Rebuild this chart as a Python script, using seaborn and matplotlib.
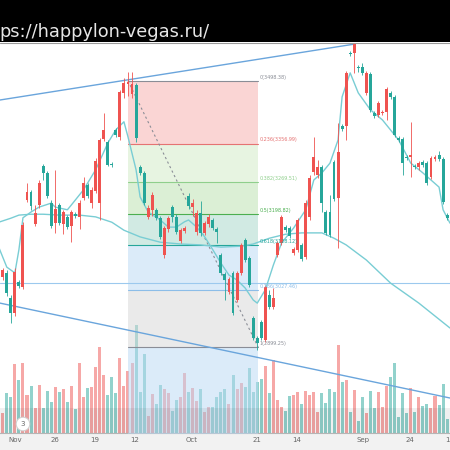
import numpy as np
import pandas as pd
import seaborn as sns
import matplotlib.pyplot as plt
from matplotlib.patches import Rectangle

# Candles (left to right as displayed)
opens = [3180.5, 3072.5, 3020.75, 2975.75, 3068, 3036.5, 3173.75, 3248, 3216.5, 3200.75,
         3268, 3290.75, 3239, 3171.5, 3209.75, 3178, 3203, 3169, 3203, 3194,
         3223, 3268, 3239, 3252.5, 3317.75, 3365, 3387.5, 3308.75, 3308.75, 3376,
         3473, 3493, 3495.5, 3491, 3369.5, 3290.75, 3223, 3212, 3241, 3189.5,
         3146.75, 3167, 3189.5, 3191.75, 3158, 3162.5, 3167, 3216.5, 3223, 3200.75,
         3155.75, 3178, 3191.75, 3167, 3158, 3065.75, 3050, 3052.25, 2975.75, 3065.75,
         3128.75, 3095, 3038.75, 2919.5, 2908, 2919.5, 3034, 2989, 3009.5, 3133,
         3191.75, 3162.5, 3149, 3119.75, 3185, 3097, 3223, 3279.5, 3326.75, 3304,
         3223, 3155.75, 3151, 3232, 3338, 3390, 3516, 3558, 3581, 3527,
         3516, 3516, 3432.5, 3419, 3448, 3428, 3480, 3462, 3376, 3365,
         3313, 3324.5, 3331, 3304, 3313, 3308.75, 3268, 3324.5, 3326.75, 3322,
         3225.5, 3189.5]
closes = [3236.75, 3056.75, 3065.75, 3009.5, 2975.75, 3045.5, 3034, 3230, 3248, 3176,
          3218.75, 3306.5, 3290.75, 3223, 3178, 3218.75, 3176, 3191.75, 3171.5, 3198.5,
          3191.75, 3234.5, 3263.75, 3223, 3250, 3223, 3367, 3360.5, 3311, 3387.5,
          3372, 3471, 3491, 3468.5, 3489, 3304, 3290.75, 3191.75, 3207.5, 3207.5,
          3189.5, 3106, 3164.75, 3214, 3191.75, 3137.75, 3160, 3239, 3214, 3158,
          3200.75, 3155.75, 3176, 3185, 3164.75, 3106, 3063.5, 3023, 3065.75, 3005,
          3065.75, 3140, 3099.5, 2964.5, 2919.5, 2955.5, 2915, 3016, 2989, 3106,
          3133, 3169, 3167, 3110.75, 3117.5, 3128.75, 3101.75, 3191.75, 3293, 3286,
          3304, 3203, 3203, 3315.5, 3234.5, 3396.5, 3396.5, 3561, 3561, 3529,
          3529, 3471, 3513.5, 3426, 3421, 3426, 3428, 3471, 3462, 3369.5,
          3367, 3326.75, 3326.75, 3306.5, 3304, 3315.5, 3313, 3281.75, 3322, 3331,
          3322, 3196]
highs = [3241, 3077, 3072.5, 3016, 3077, 3050, 3180.5, 3268, 3252.5, 3218.75,
         3275, 3311, 3295, 3230, 3297.5, 3223, 3207.5, 3196, 3207.5, 3203,
         3230, 3281.75, 3268, 3259, 3324.5, 3369.5, 3426, 3365, 3315.5, 3392,
         3477.5, 3504.5, 3518, 3518, 3493, 3308.75, 3295, 3218.75, 3248, 3212,
         3194, 3171.5, 3194, 3218.75, 3198.5, 3167, 3171.5, 3245.75, 3232, 3207.5,
         3227.75, 3182.75, 3198.5, 3189.5, 3169, 3110.75, 3068, 3056.75, 3070, 3070,
         3133, 3144.5, 3104, 2969, 2924, 2960, 3038.75, 3027.5, 3032, 3137.75,
         3196, 3173.75, 3171.5, 3124, 3189.5, 3133, 3230, 3286, 3372, 3320,
         3308.75, 3207.5, 3241, 3320, 3403, 3401, 3520, 3565, 3581, 3534,
         3538, 3520, 3518, 3430, 3453, 3432.5, 3484, 3475, 3466, 3374,
         3372, 3331, 3405.5, 3311, 3317.75, 3320, 3317.75, 3329, 3331, 3340,
         3326.75, 3200.75]
lows = [3176, 3050, 3014, 2953, 2969, 3032, 3029.75, 3225.5, 3207.5, 3171.5,
        3212, 3275, 3234.5, 3167, 3155.75, 3173.75, 3153.5, 3164.75, 3135.5, 3189.5,
        3164.75, 3230, 3234.5, 3212, 3245.75, 3185, 3362.75, 3306.5, 3304, 3372,
        3365, 3459.5, 3464, 3459.5, 3360.5, 3286, 3218.75, 3187, 3194, 3185,
        3142, 3099.5, 3158, 3180.5, 3153.5, 3133, 3155.75, 3209.75, 3194, 3151,
        3149, 3151, 3169, 3162.5, 3133, 3061, 3005, 3018.5, 2971, 3000.5,
        3061, 3090.5, 3034, 2915, 2892.5, 2915, 2910.5, 2984.75, 2984.75, 3101.75,
        3128.75, 3158, 3144.5, 3106, 3113, 3092.75, 3097, 3185, 3286, 3279.5,
        3203, 3151, 3146.75, 3227.75, 3122, 3385, 3365, 3554, 3516, 3518,
        3511, 3466, 3428, 3414.5, 3417, 3421, 3410, 3457, 3372, 3360.5,
        3286, 3320, 3281.75, 3299.75, 3297.5, 3304, 3263.75, 3277, 3317.75, 3317.75,
        3221, 3185]
volumes = [51, 20, 40, 36, 69, 53, 70, 38, 47, 25,
           48, 25, 42, 31, 46, 41, 44, 31, 47, 24,
           70, 36, 45, 46, 66, 86, 58, 38, 56, 40,
           75, 47, 62, 70, 108, 41, 79, 17, 39, 29,
           48, 44, 40, 22, 33, 36, 60, 41, 45, 32,
           44, 21, 26, 26, 36, 41, 44, 29, 58, 44,
           50, 46, 65, 41, 51, 54, 67, 40, 73, 33,
           26, 22, 37, 38, 41, 29, 42, 38, 41, 21,
           40, 30, 44, 41, 88, 51, 53, 21, 43, 12,
           36, 20, 42, 25, 41, 26, 47, 56, 70, 16,
           40, 20, 45, 21, 36, 27, 29, 25, 37, 28,
           49, 14]

# Moving averages as they appear on the chart
ma_fast_idx = [0, 2, 4, 5, 6, 8, 10, 13, 14, 17, 18, 21, 24, 27, 29, 31, 32, 34, 35, 37,
               40, 42, 44, 46, 47, 49, 51, 53, 55, 57, 59, 61, 63, 64, 66, 68, 70, 73, 76, 78,
               80, 82, 84, 85, 87, 89, 92, 95, 99, 102, 105, 109, 110, 111.7]
ma_fast = [3124, 3079, 3066, 3118, 3190, 3203, 3214, 3223, 3214, 3208, 3219, 3253, 3298, 3358,
           3388, 3406, 3372, 3298, 3237, 3203, 3185, 3169, 3169, 3181, 3185, 3169, 3147, 3118,
           3088, 3061, 3050, 3032, 3005, 2998, 3028, 3084, 3133, 3167, 3208, 3275, 3291, 3313,
           3365, 3462, 3516, 3471, 3433, 3410, 3365, 3313, 3291, 3259, 3208, 3178]
ma_slow_idx = [0, 3, 5, 8, 11, 15, 20, 24, 28, 31, 35, 40, 45, 50, 55, 60, 63, 67, 71, 75,
               80, 83, 86, 91, 97, 104, 111.7]
ma_slow = [3180, 3189, 3196, 3198, 3198, 3196, 3196, 3192, 3180, 3162, 3147, 3135, 3131, 3129,
           3124, 3126, 3131, 3144, 3153, 3156, 3156, 3144, 3129, 3095, 3043, 2998, 2942]

tick_pos = [4.0, 13.9, 23.8, 33.7, 47.8, 63.9, 73.8, 90.2, 101.8, 111.0]
tick_labels = ["Nov", "26", "19", "12", "Oct", "21", "14", "Sep", "24", "1"]

# Drawings
fib_high, fib_low = 3498.38, 2899.25
fib_x0, fib_x1 = 32, 64.2
fib_ratios = [0, 0.236, 0.382, 0.5, 0.618, 0.786, 1, 1.618]
fib_line_colors = ["#8a8d96", "#e57373", "#8fcf8c", "#4caf50", "#26a69a", "#8cbde8", "#8a8d96", "#8cbde8"]
fib_fill_colors = ["#f7adab", "#d1ebc5", "#b9e1ad", "#a5d7c9", "#b9d9f5", "#d7d7d7", "#b9d9f5"]
trend_up_x, trend_up_y = [0.32, 88.2], [3455, 3581]
trend_dn_x, trend_dn_y = [0.32, 111.7], [2998, 2784.5]
hline_price = 3043

GREEN, RED = "#26a69a", "#ef5350"

sns.set_theme(style="white")
plt.rcParams['font.family'] = ['DejaVu Sans']

fig = plt.figure(figsize=(4.5, 4.5), dpi=100, facecolor="#f2f2f2")
pos = [0, 17 / 450, 1, 391 / 450]
ax_vol = fig.add_axes(pos)
ax = fig.add_axes(pos, sharex=ax_vol)
ax.set_facecolor("none")
ax_vol.set_facecolor("white")

df = pd.DataFrame({"o": opens, "c": closes, "h": highs, "l": lows, "v": volumes})
df["i"] = np.arange(len(df))
df["up"] = df["c"] >= df["o"]
colors = np.where(df["up"], GREEN, RED)

# volume
ax_vol.bar(df["i"], df["v"], width=0.75, color=colors, alpha=0.5, linewidth=0)
ax_vol.set_ylim(0, 391)
ax_vol.set_yticks([])

# fibonacci zones
levels = [fib_high - r * (fib_high - fib_low) for r in fib_ratios]
for k in range(len(levels) - 1):
    ax.fill_between([fib_x0, fib_x1], levels[k + 1], levels[k], color=fib_fill_colors[k],
                    alpha=0.5, linewidth=0, zorder=0)
for r, lv, col in zip(fib_ratios[:-1], levels[:-1], fib_line_colors[:-1]):
    ax.plot([fib_x0, fib_x1], [lv, lv], color=col, lw=0.8, zorder=1)
    ax.text(fib_x1 + 0.3, lv + 2.5, f"{r:g}({lv:.2f})", color=col, fontsize=3.5,
            ha="left", va="bottom", zorder=6)
ax.plot([fib_x0, fib_x1], [fib_high, fib_low], color="#8a8d96", lw=0.8, ls=(0, (2, 2.5)), zorder=2)

# lines
ax.axhline(hline_price, color="#9cc9ee", lw=0.8, zorder=1)
ax.plot(trend_up_x, trend_up_y, color="#6aa5dc", lw=1.0, zorder=2)
ax.plot(trend_dn_x, trend_dn_y, color="#6aa5dc", lw=1.0, zorder=2)
sns.lineplot(x=ma_slow_idx, y=ma_slow, ax=ax, color="#79cdd4", lw=1.0, zorder=2)
sns.lineplot(x=ma_fast_idx, y=ma_fast, ax=ax, color="#79cdd4", lw=1.0, zorder=2)

# candles
ax.vlines(df["i"], df["l"], df["h"], colors=colors, lw=0.6, zorder=3)
body_lo = np.minimum(df["o"], df["c"])
body_h = np.maximum(np.abs(df["c"] - df["o"]), 2.2)
ax.bar(df["i"], body_h, bottom=body_lo, width=0.72, color=colors, linewidth=0, zorder=4)

ax.set_xlim(0.32, 111.71)
ax.set_ylim(2705.75, 3585.5)
ax.set_yticks([])
ax.set_xlabel("")
ax.set_ylabel("")

# darker band at the bottom of the volume pane
ax.add_patch(Rectangle((0, 0), 1, 25 / 391, transform=ax.transAxes, color="black",
                       alpha=0.06, lw=0, zorder=5))

for a in (ax, ax_vol):
    for s in a.spines.values():
        s.set_visible(False)
ax_vol.spines["bottom"].set_visible(True)
ax_vol.spines["bottom"].set_color("#b5b5b5")
ax_vol.spines["bottom"].set_linewidth(0.8)
ax.set_xticks(tick_pos)
ax.set_xticklabels(tick_labels)
ax.tick_params(axis="x", length=0, pad=3, labelsize=5, labelcolor="#666666")
ax_vol.tick_params(axis="x", length=0, labelbottom=False)

fig.text(23 / 450, 1 - 424 / 450, "3", ha="center", va="center", fontsize=5, color="#666666",
         bbox=dict(boxstyle="circle,pad=0.55", fc="white", ec="#cfcfcf", lw=0.7))

# black banner with the url
fig.patches.append(Rectangle((0, 1 - 42 / 450), 1, 42 / 450, transform=fig.transFigure,
                             facecolor="black", edgecolor="none", zorder=10))
fig.lines.append(plt.Line2D([0, 1], [1 - 42.5 / 450, 1 - 42.5 / 450], transform=fig.transFigure,
                            color="#9a9a9a", lw=0.8, zorder=11))
fig.text(-1 / 450, 1 - 37 / 450, "ps://happylon-vegas.ru/", color="#e6e6e6", fontsize=12.8,
         ha="left", va="baseline", zorder=12)

fig.savefig("out.png", dpi=100)
plt.close(fig)
